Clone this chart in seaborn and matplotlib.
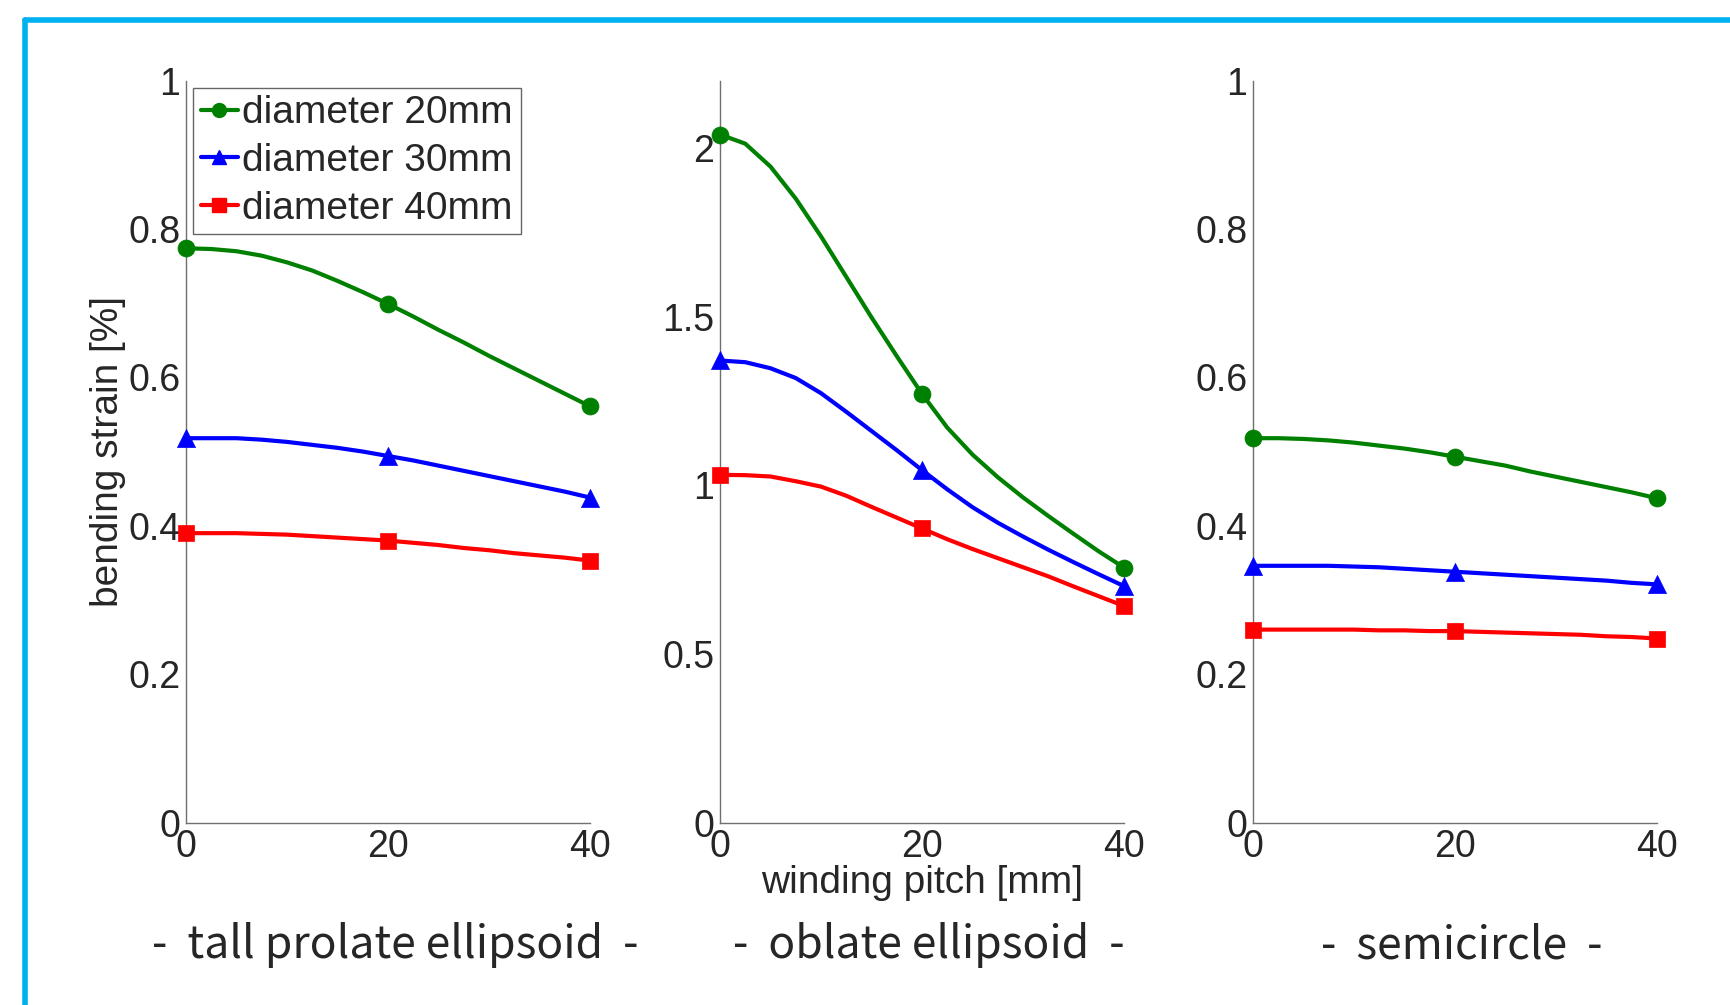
import matplotlib
matplotlib.use("Agg")
import matplotlib.pyplot as plt
from matplotlib.lines import Line2D
from matplotlib.ticker import FormatStrFormatter
import seaborn as sns

# --------------------------------------------------------------------------- #
# Data
# --------------------------------------------------------------------------- #
PITCH = [0, 2.5, 5, 7.5, 10, 12.5, 15, 17.5, 20,
         22.5, 25, 27.5, 30, 32.5, 35, 37.5, 40]    # winding pitch [mm], curve samples
MARK_STEP = 8                                       # markers at 0, 20, 40 mm

SERIES = ["diameter 20mm", "diameter 30mm", "diameter 40mm"]
PANELS = ["-  tall prolate ellipsoid  -", "-  oblate ellipsoid  -", "-  semicircle  -"]

# tall prolate ellipsoid
prolate_20 = [0.774, 0.773, 0.770, 0.764, 0.755, 0.744, 0.730, 0.715, 0.699,
              0.682, 0.664, 0.647, 0.629, 0.612, 0.595, 0.578, 0.561]
prolate_30 = [0.518, 0.518, 0.518, 0.516, 0.513, 0.509, 0.505, 0.500, 0.494,
              0.488, 0.481, 0.474, 0.467, 0.460, 0.453, 0.446, 0.438]
prolate_40 = [0.390, 0.390, 0.390, 0.389, 0.388, 0.386, 0.384, 0.382, 0.380,
              0.377, 0.374, 0.370, 0.367, 0.363, 0.360, 0.357, 0.353]

# oblate ellipsoid
oblate_20 = [2.040, 2.013, 1.945, 1.850, 1.738, 1.618, 1.498, 1.383, 1.271,
             1.171, 1.091, 1.024, 0.964, 0.909, 0.856, 0.804, 0.756]
oblate_30 = [1.370, 1.365, 1.347, 1.318, 1.273, 1.218, 1.161, 1.104, 1.045,
             0.988, 0.935, 0.889, 0.848, 0.809, 0.772, 0.736, 0.701]
oblate_40 = [1.031, 1.030, 1.026, 1.012, 0.996, 0.969, 0.936, 0.904, 0.872,
             0.840, 0.811, 0.784, 0.757, 0.730, 0.700, 0.671, 0.642]

# semicircle
semi_20 = [0.518, 0.518, 0.517, 0.515, 0.512, 0.508, 0.504, 0.499, 0.493,
           0.487, 0.481, 0.473, 0.466, 0.459, 0.452, 0.445, 0.437]
semi_30 = [0.346, 0.346, 0.346, 0.346, 0.345, 0.344, 0.342, 0.340, 0.338,
           0.336, 0.334, 0.332, 0.330, 0.328, 0.326, 0.323, 0.321]
semi_40 = [0.260, 0.260, 0.260, 0.260, 0.260, 0.259, 0.259, 0.258, 0.258,
           0.257, 0.256, 0.255, 0.254, 0.253, 0.251, 0.250, 0.248]

PANEL_DATA = [
    [prolate_20, prolate_30, prolate_40],
    [oblate_20, oblate_30, oblate_40],
    [semi_20, semi_30, semi_40],
]
YLIMS = [(0, 1), (0, 2.2), (0, 1)]
YTICKS = [[0, 0.2, 0.4, 0.6, 0.8, 1], [0, 0.5, 1, 1.5, 2], [0, 0.2, 0.4, 0.6, 0.8, 1]]
XTICKS = [0, 20, 40]

# --------------------------------------------------------------------------- #
# Style
# --------------------------------------------------------------------------- #
COLORS = ["#008000", "#0000ff", "#ff0000"]
MARKERS = ["o", "^", "s"]
MSIZE = [150, 170, 120]
AXIS_GREY = "#707070"
BORDER = "#00b0f0"

sns.set_style("white")
plt.rcParams["font.family"] = ["Liberation Sans", "DejaVu Sans"]

W, H = 1731, 1005
fig = plt.figure(figsize=(W / 100, H / 100), dpi=100)

lefts = [186, 720, 1253]
ax_w = 404
ax_top, ax_bot = 80.6, 822.5

for i, (name, data) in enumerate(zip(PANELS, PANEL_DATA)):
    ax = fig.add_axes([lefts[i] / W, 1 - ax_bot / H, ax_w / W, (ax_bot - ax_top) / H])
    for vals, c, m, s in zip(data, COLORS, MARKERS, MSIZE):
        sns.lineplot(x=PITCH, y=vals, color=c, lw=3.0, ax=ax, clip_on=False)
        sns.scatterplot(x=PITCH[::MARK_STEP], y=vals[::MARK_STEP], color=c,
                        marker=m, s=s, edgecolor=c, linewidth=0.5, ax=ax,
                        clip_on=False, zorder=4)
    ax.set_xlim(0, 40)
    ax.set_ylim(*YLIMS[i])
    ax.set_xticks(XTICKS)
    ax.set_yticks(YTICKS[i])
    ax.yaxis.set_major_formatter(FormatStrFormatter("%g"))
    for side in ["top", "right"]:
        ax.spines[side].set_visible(False)
    for side in ["left", "bottom"]:
        ax.spines[side].set_color(AXIS_GREY)
        ax.spines[side].set_linewidth(1.0)
    ax.tick_params(direction="in", length=5, width=1, color=AXIS_GREY,
                   labelsize=27, pad=5)
    ax.tick_params(axis="y", pad=4)

    cx = (lefts[i] + ax_w / 2 + 7) / W
    fig.text(cx, 1 - 958 / H, name, ha="center", va="baseline", fontsize=32,
             family=["Noto Sans CJK KR", "DejaVu Sans"])

    if i == 0:
        ax.set_ylabel("bending strain [%]", fontsize=28, labelpad=2)
        handles = [Line2D([], [], color=c, marker=m, lw=3.0, markersize=10)
                   for c, m in zip(COLORS, MARKERS)]
        leg = ax.legend(handles, SERIES, loc="upper left", fontsize=28,
                        frameon=True, fancybox=False, framealpha=1,
                        edgecolor="#666666", handlelength=0.95,
                        handletextpad=0.12, labelspacing=0.3,
                        borderpad=0.2, borderaxespad=0.18)
        leg.get_frame().set_linewidth(1.0)
    if i == 1:
        ax.set_xlabel("winding pitch [mm]", fontsize=28, labelpad=0)

# slide-style frame: blue line along the top and left edge
x_b, y_b = 25 / W, 1 - 20 / H
fig.add_artist(Line2D([x_b, 1.01], [y_b, y_b], transform=fig.transFigure,
                      color=BORDER, lw=4))
fig.add_artist(Line2D([x_b, x_b], [y_b, -0.01], transform=fig.transFigure,
                      color=BORDER, lw=4))

fig.savefig("out.png", dpi=100)
plt.close(fig)
